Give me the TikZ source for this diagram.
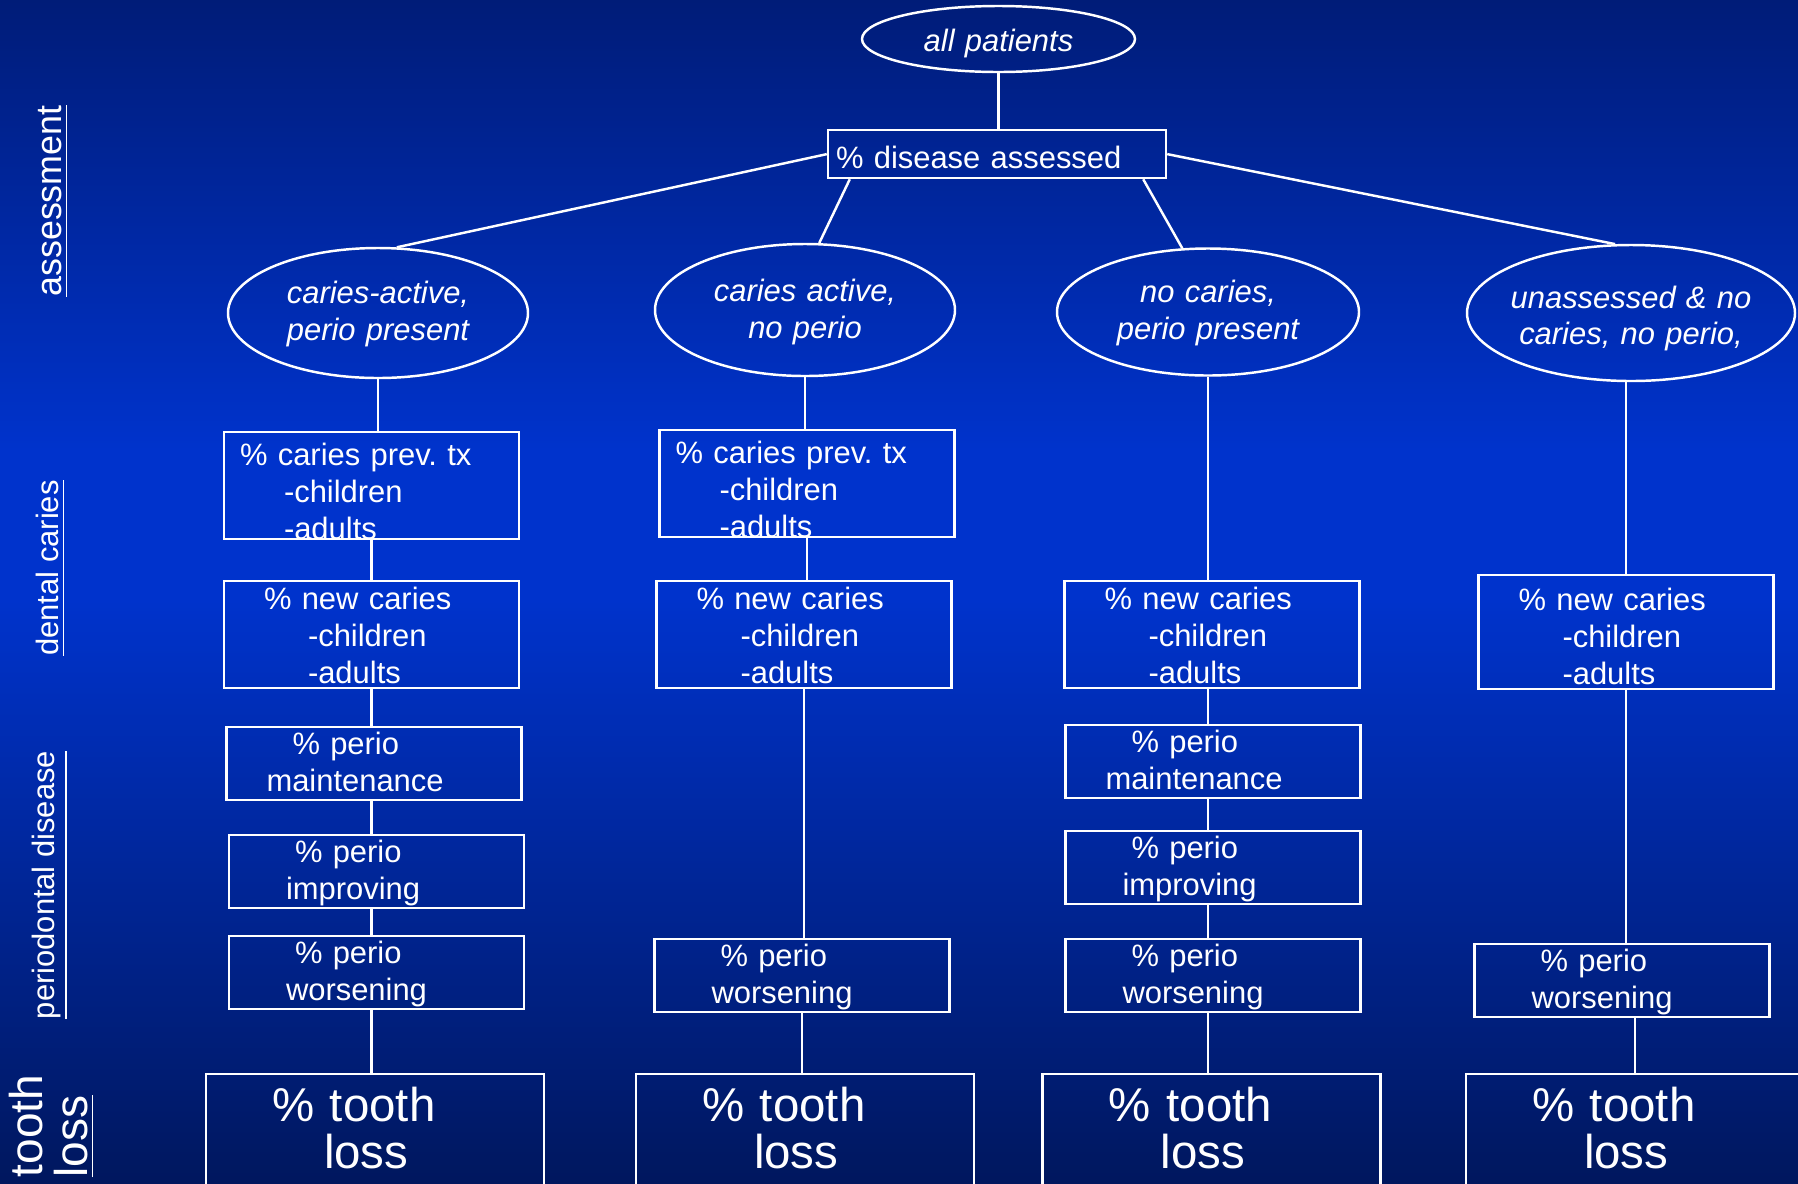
\documentclass[tikz,border=0pt]{standalone}
\usepackage{fontspec}
\setmainfont{Liberation Sans}
\usetikzlibrary{positioning,calc,shapes.geometric}
\definecolor{SlideTop}{HTML}{001C78}
\definecolor{SlideMid}{HTML}{0033CC}
\definecolor{SlideBottom}{HTML}{00175E}
\frenchspacing

\begin{document}
\begin{tikzpicture}[
    every node/.style={text=white,font=\fontsize{8.8}{10.5}\selectfont},
    grp/.style={ellipse,draw=white,line width=0.7pt,inner sep=0pt,align=center,text width=2.1cm,text height=7pt,text depth=12.4pt,font=\fontsize{8.8}{10.5}\selectfont\itshape},
    box/.style={draw=white,line width=0.7pt,anchor=north,inner sep=0pt,text width=2.95cm,align=left,text height=8.1pt,text depth=22.2pt},
    prevbox/.style={box,text height=9.4pt,text depth=20.9pt},
    pbox/.style={box,text height=7.7pt,text depth=13pt},
    lossbox/.style={box,text width=3.38cm,text height=13.4pt,text depth=3cm,font=\fontsize{13.5}{13.4}\selectfont},
    sidelabel/.style={rotate=90,inner sep=0pt},
    link/.style={white,line width=0.7pt}
  ]
    \clip (0,0) rectangle (17.98,-11.83);
    \shade[top color=SlideTop,bottom color=SlideMid] (0,0) rectangle (17.98,-4.5);
    \fill[SlideMid] (0,-4.5) rectangle (17.98,-6);
    \shade[top color=SlideMid,bottom color=SlideBottom] (0,-6) rectangle (17.98,-11.83);

    \node[sidelabel,font=\fontsize{10.2}{12}\selectfont] (labassess) at (0.535,-2.01) {\underline{assessment}};
    \node[sidelabel] (labcaries) at (0.51,-5.68) {\underline{dental caries}};
    \node[sidelabel] (labperio) at (0.50,-8.85) {\underline{periodontal disease}};
    \node[sidelabel,anchor=west,align=left,font=\fontsize{13.1}{12.6}\selectfont] (labloss) at (0.52,-11.78) {tooth\\\underline{loss}};

    \node[grp,text width=1.6cm,text height=8.8pt,text depth=1.9pt,minimum width=2.73cm,minimum height=0.66cm] (allp) at (9.985,-0.39) {all patients};
    \node[box,text width=3.38cm,text height=11pt,text depth=2.6pt] (assess) at (9.97,-1.29) {\hspace*{0.08cm}\% disease assessed};

    \node[grp,minimum width=3cm,minimum height=1.3cm] (g1) at (3.78,-3.13) {caries-active,\\perio present};
    \node[grp,text height=7.6pt,minimum width=3cm,minimum height=1.32cm] (g2) at (8.05,-3.10) {caries active,\\no perio};
    \node[grp,minimum width=3.02cm,minimum height=1.27cm] (g3) at (12.08,-3.12) {no caries,\\perio present};
    \node[grp,text width=2.5cm,inner xsep=-0.2cm,text height=9.6pt,minimum width=3.28cm,minimum height=1.36cm] (g4) at (16.31,-3.13) {unassessed \& no\\caries, no perio,};

    \node[prevbox] (c1prev) at (3.715,-4.31) {\hspace*{0.16cm}\% caries prev. tx\\\hspace*{0.6cm}-children\\\hspace*{0.6cm}-adults};
    \node[box] (c1new) at (3.715,-5.80) {\hspace*{0.4cm}\% new caries\\\hspace*{0.84cm}-children\\\hspace*{0.84cm}-adults};
    \node[pbox] (c1maint) at (3.74,-7.26) {\hspace*{0.66cm}\% perio\\\hspace*{0.4cm}maintenance};
    \node[pbox] (c1impr) at (3.765,-8.34) {\hspace*{0.66cm}\% perio\\\hspace*{0.57cm}improving};
    \node[pbox] (c1wors) at (3.765,-9.35) {\hspace*{0.66cm}\% perio\\\hspace*{0.57cm}worsening};
    \node[lossbox] (c1loss) at (3.75,-10.73) {\hspace*{0.66cm}\% tooth\\\hspace*{1.18cm}loss};

    \node[prevbox] (c2prev) at (8.07,-4.29) {\hspace*{0.16cm}\% caries prev. tx\\\hspace*{0.6cm}-children\\\hspace*{0.6cm}-adults};
    \node[box] (c2new) at (8.04,-5.80) {\hspace*{0.4cm}\% new caries\\\hspace*{0.84cm}-children\\\hspace*{0.84cm}-adults};
    \node[pbox] (c2wors) at (8.02,-9.38) {\hspace*{0.66cm}\% perio\\\hspace*{0.57cm}worsening};
    \node[lossbox] (c2loss) at (8.05,-10.73) {\hspace*{0.66cm}\% tooth\\\hspace*{1.18cm}loss};

    \node[box] (c3new) at (12.12,-5.80) {\hspace*{0.4cm}\% new caries\\\hspace*{0.84cm}-children\\\hspace*{0.84cm}-adults};
    \node[pbox] (c3maint) at (12.13,-7.24) {\hspace*{0.66cm}\% perio\\\hspace*{0.4cm}maintenance};
    \node[pbox] (c3impr) at (12.13,-8.30) {\hspace*{0.66cm}\% perio\\\hspace*{0.57cm}improving};
    \node[pbox] (c3wors) at (12.13,-9.38) {\hspace*{0.66cm}\% perio\\\hspace*{0.57cm}worsening};
    \node[lossbox] (c3loss) at (12.115,-10.73) {\hspace*{0.66cm}\% tooth\\\hspace*{1.18cm}loss};

    \node[box,text height=10.1pt] (c4new) at (16.26,-5.74) {\hspace*{0.4cm}\% new caries\\\hspace*{0.84cm}-children\\\hspace*{0.84cm}-adults};
    \node[pbox] (c4wors) at (16.22,-9.43) {\hspace*{0.66cm}\% perio\\\hspace*{0.57cm}worsening};
    \node[lossbox] (c4loss) at (16.35,-10.73) {\hspace*{0.66cm}\% tooth\\\hspace*{1.18cm}loss};

    \draw[link] (allp.south) -- (allp.south |- assess.north);
    \draw[link] (assess.west) -- (g1.74);
    \draw[link] ($(assess.south west)+(0.23,0)$) -- (g2.78);
    \draw[link] ($(assess.south east)+(-0.24,0)$) -- (g3.112);
    \draw[link] (assess.east) -- (g4.103);

    \draw[link] (g1.south) -- (g1.south |- c1prev.north);
    \draw[link] (c1prev.south) -- (c1prev.south |- c1new.north);
    \draw[link] (c1new.south) -- (c1new.south |- c1maint.north);
    \draw[link] (c1maint.south -| c1new.south) -- (c1impr.north -| c1new.south);
    \draw[link] (c1impr.south -| c1new.south) -- (c1wors.north -| c1new.south);
    \draw[link] (c1wors.south -| c1new.south) -- (c1loss.north -| c1new.south);

    \draw[link] (g2.south) -- (g2.south |- c2prev.north);
    \draw[link] (c2prev.south) -- (c2prev.south |- c2new.north);
    \draw[link] (c2new.south) -- (c2new.south |- c2wors.north);
    \draw[link] (c2wors.south) -- (c2wors.south |- c2loss.north);

    \draw[link] (g3.south) -- (g3.south |- c3new.north);
    \draw[link] (c3new.south -| g3.south) -- (c3maint.north -| g3.south);
    \draw[link] (c3maint.south -| g3.south) -- (c3impr.north -| g3.south);
    \draw[link] (c3impr.south -| g3.south) -- (c3wors.north -| g3.south);
    \draw[link] (c3wors.south -| g3.south) -- (c3loss.north -| g3.south);

    \draw[link] (g4.south -| c4new.north) -- (c4new.north);
    \draw[link] (c4new.south) -- (c4new.south |- c4wors.north);
    \draw[link] (c4wors.south -| c4loss.north) -- (c4loss.north);
\end{tikzpicture}
\end{document}
